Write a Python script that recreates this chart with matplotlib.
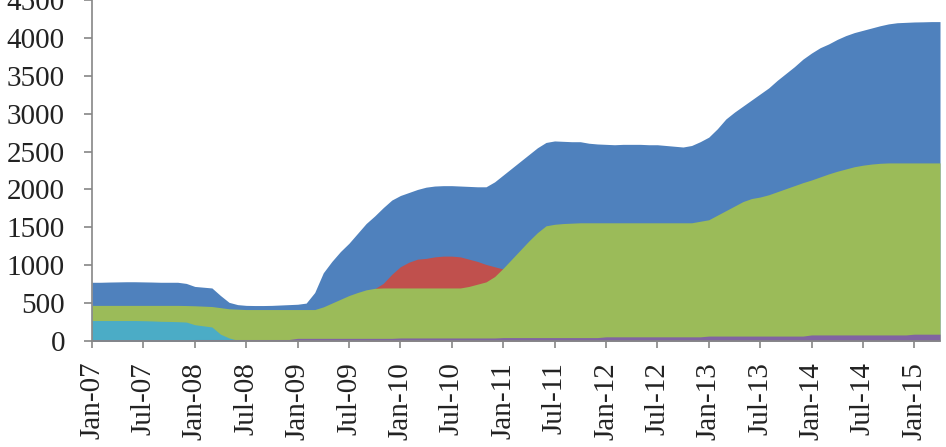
import matplotlib
matplotlib.use("Agg")
import matplotlib.pyplot as plt
import numpy as np

# Monthly data, Jan-07 .. Apr-15 (100 months)
months = list(range(100))

total_blue = [775, 775, 778, 780, 782, 782, 780, 778, 775, 775, 775, 760,
              720, 710, 700, 600, 510, 480, 470, 468, 468, 470, 475, 480,
              485, 500, 640, 900, 1050, 1180, 1290, 1420, 1550, 1650, 1760, 1860,
              1920, 1960, 2000, 2030, 2045, 2050, 2050, 2045, 2040, 2035, 2035, 2100,
              2190, 2280, 2370, 2460, 2550, 2620, 2640, 2635, 2630, 2630, 2610, 2600,
              2595, 2590, 2595, 2595, 2595, 2590, 2590, 2580, 2570, 2560, 2580, 2630,
              2690, 2800, 2930, 3020, 3100, 3180, 3260, 3340, 3440, 3530, 3620, 3720,
              3800, 3870, 3920, 3980, 4030, 4070, 4100, 4130, 4160, 4185, 4200, 4205,
              4210, 4212, 4215, 4215]

red_series = [0] * 33 + [690, 760, 880, 980, 1040, 1080, 1090, 1110, 1120, 1120,
                         1110, 1080, 1050, 1010, 980, 950, 900] + [0] * 50

green_series = [470, 470, 470, 470, 470, 470, 470, 470, 470, 470, 470, 468,
                465, 460, 455, 440, 425, 420, 415, 415, 415, 415, 415, 415,
                415, 415, 415, 450, 500, 550, 600, 640, 675, 695, 700, 700,
                700, 700, 700, 700, 700, 700, 700, 700, 720, 750, 780, 850,
                960, 1080, 1200, 1320, 1430, 1520, 1540, 1550, 1555, 1560, 1560, 1560,
                1560, 1560, 1560, 1560, 1560, 1560, 1560, 1560, 1560, 1560, 1560, 1580,
                1600, 1660, 1720, 1780, 1840, 1880, 1900, 1930, 1970, 2010, 2050, 2090,
                2125, 2165, 2205, 2240, 2270, 2300, 2320, 2335, 2345, 2350, 2350, 2350,
                2350, 2350, 2350, 2350]

lightblue_series = [270, 270, 270, 270, 270, 270, 268, 265, 260, 258, 255, 250,
                    215, 200, 185, 90, 40, 10] + [0] * 82

purple_series = [15] * 12 + [20] * 12 + [35] * 12 + [40] * 12 + [45] * 12 + \
                [55] * 12 + [65] * 12 + [80] * 12 + [90] * 4

tick_labels = ["Jan-07", "Jul-07", "Jan-08", "Jul-08", "Jan-09", "Jul-09",
               "Jan-10", "Jul-10", "Jan-11", "Jul-11", "Jan-12", "Jul-12",
               "Jan-13", "Jul-13", "Jan-14", "Jul-14", "Jan-15"]

plt.rcParams['font.family'] = ['Liberation Serif', 'DejaVu Serif']

fig = plt.figure(figsize=(9.46, 4.47), dpi=100)
ax = fig.add_axes([92 / 946, 1 - 341 / 447, 848 / 946, 341 / 447])

ax.fill_between(months, 0, total_blue, color="#4F81BD", lw=0)
ax.fill_between(months, 0, red_series, color="#C0504D", lw=0)
ax.fill_between(months, 0, green_series, color="#9BBB59", lw=0)
ax.fill_between(months, 0, lightblue_series, color="#4BACC6", lw=0)
ax.fill_between(months, 0, purple_series, color="#8064A2", lw=0)

ax.set_xlim(0, 99)
ax.set_ylim(0, 4500)
ax.set_yticks(np.arange(0, 4501, 500))
ax.set_xticks(np.arange(0, 97, 6))
ax.set_xticklabels(tick_labels, rotation=90)

for s in ["top", "right"]:
    ax.spines[s].set_visible(False)
for s in ["left", "bottom"]:
    ax.spines[s].set_color("#868686")
    ax.spines[s].set_linewidth(1.2)

ax.tick_params(axis="y", length=6, width=1.2, color="#868686", pad=13.5,
               labelsize=21, labelcolor="#222222")
ax.tick_params(axis="x", length=5, width=1.2, color="#868686", pad=10,
               labelsize=21, labelcolor="#222222")

fig.savefig("out.png", dpi=100)
